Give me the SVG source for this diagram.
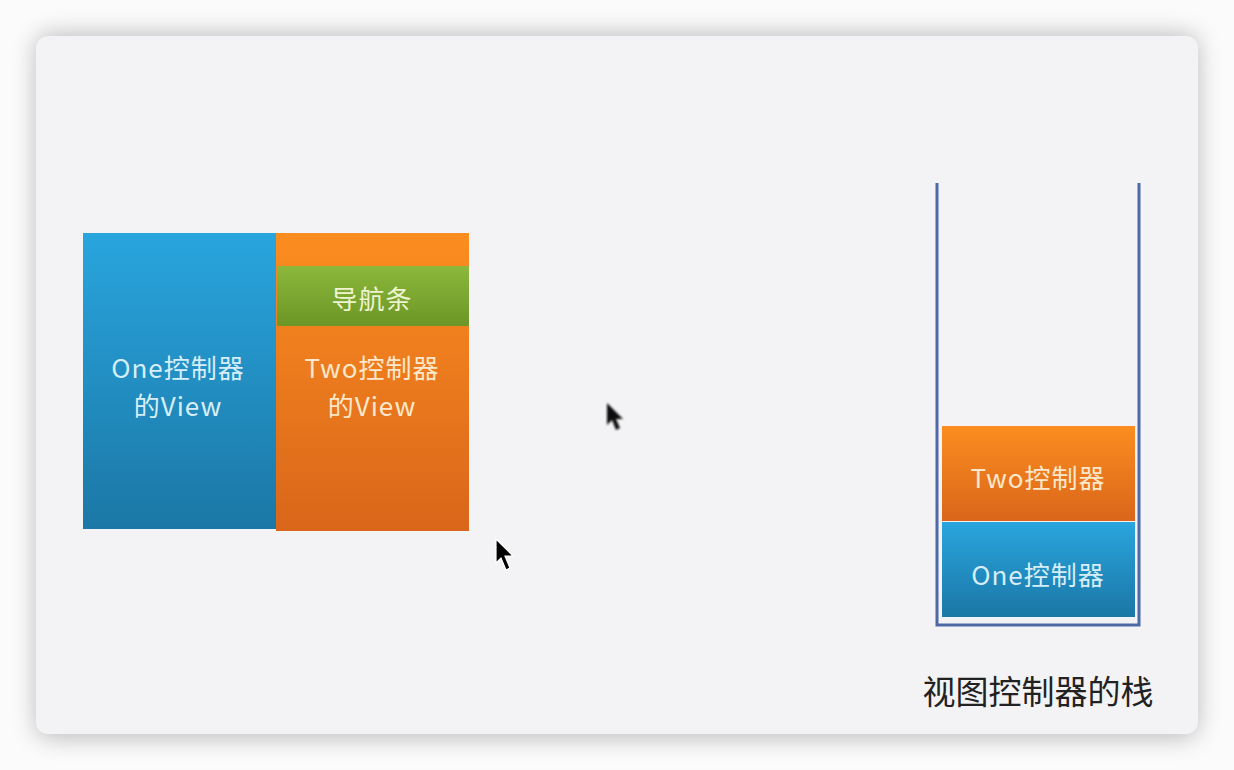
<svg xmlns="http://www.w3.org/2000/svg" width="1234" height="770" viewBox="0 0 1234 770">
<defs>
<linearGradient id="gBlue" x1="0" y1="0" x2="0" y2="1"><stop offset="0" stop-color="#29a5de"/><stop offset="1" stop-color="#1b77a6"/></linearGradient>
<linearGradient id="gOrange" x1="0" y1="0" x2="0" y2="1"><stop offset="0" stop-color="#fb8d20"/><stop offset="1" stop-color="#d9661a"/></linearGradient>
<linearGradient id="gGreen" x1="0" y1="0" x2="0" y2="1"><stop offset="0" stop-color="#8cb83c"/><stop offset="1" stop-color="#6c9626"/></linearGradient>
<filter id="shadow" x="-10%" y="-10%" width="120%" height="120%"><feGaussianBlur stdDeviation="12"/></filter>
<filter id="blur1"><feGaussianBlur stdDeviation="0.8"/></filter>
</defs>
<style>
.t{font-family:"Noto Sans CJK SC","Liberation Sans",sans-serif;font-size:26px;letter-spacing:1px;text-anchor:middle;dominant-baseline:central}
.tb{fill:#d6eefa}
.to{fill:#fde8cc}
.tg{fill:#eef3d0}
.cap{font-family:"Noto Sans CJK SC","Liberation Sans",sans-serif;font-size:33px;fill:#222;text-anchor:middle;dominant-baseline:central}
.wall{stroke:#4d6aa6;stroke-width:3;fill:none}
</style>
<rect width="1234" height="770" fill="#fbfbfb"/>
<rect x="36" y="34" width="1162" height="704" rx="14" fill="#000" opacity="0.25" filter="url(#shadow)"/>
<rect x="36" y="36" width="1162" height="698" rx="12" fill="#f3f3f6"/>

<g id="oneView">
<rect x="83" y="233" width="193" height="296" fill="url(#gBlue)"/>
<text class="t tb" x="178" y="366">One控制器</text>
<text class="t tb" x="178" y="404">的View</text>
</g>
<g id="twoView">
<rect x="276" y="233" width="193" height="298" fill="url(#gOrange)"/>
<text class="t to" x="372" y="366">Two控制器</text>
<text class="t to" x="372" y="404">的View</text>
</g>
<g id="navBar">
<rect x="277" y="266" width="192" height="60" fill="url(#gGreen)"/>
<text class="t tg" x="372" y="297">导航条</text>
</g>

<g id="stack">
<path class="wall" d="M937 183 V625 H1139 V183"/>
</g>
<g id="twoCtrl">
<rect x="942" y="426" width="193" height="95" fill="url(#gOrange)"/>
<text class="t to" x="1038" y="476">Two控制器</text>
</g>
<g id="oneCtrl">
<rect x="942" y="522" width="193" height="95" fill="url(#gBlue)"/>
<text class="t tb" x="1038" y="573">One控制器</text>
</g>
<g id="caption">
<text class="cap" x="1038" y="690">视图控制器的栈</text>
</g>

<g id="cursors">
<path d="M607 403 L607 425 L612 420 L616 430 L620 428 L616 419 L623 419 Z" fill="#111" filter="url(#blur1)"/>
<path d="M496 539 L496 563 L501 558 L506 570 L510 568 L505 556 L513 556 Z" fill="#000" stroke="#fff" stroke-width="1.2"/>
</g>
</svg>
